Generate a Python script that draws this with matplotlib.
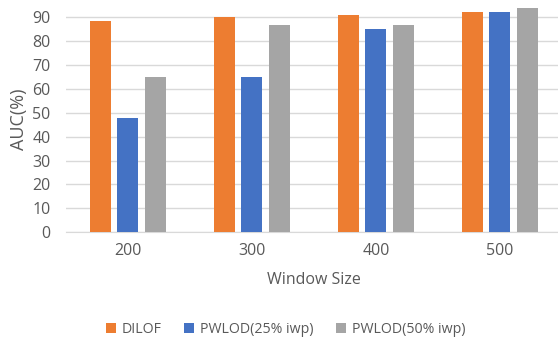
import matplotlib
matplotlib.use("Agg")
import matplotlib.pyplot as plt
import numpy as np

plt.rcParams["font.family"] = ["Open Sans", "DejaVu Sans"]

window_sizes = ["200", "300", "400", "500"]
series_names = ["DILOF", "PWLOD(25% iwp)", "PWLOD(50% iwp)"]
dilof = [88.3, 90.0, 91.2, 92.3]
pwlod_25 = [47.7, 65.1, 85.2, 92.3]
pwlod_50 = [65.1, 87.0, 86.6, 94.1]
colors = ["#ED7D31", "#4472C4", "#A5A5A5"]

text_color = "#595959"
grid_color = "#D9D9D9"

fig = plt.figure(figsize=(5.58, 3.40), dpi=100)
ax = fig.add_axes([0.118, 0.317, 0.889, 0.667])

x = np.arange(len(window_sizes))
width = 0.17
step = 0.223
for i, (vals, name, c) in enumerate(zip([dilof, pwlod_25, pwlod_50], series_names, colors)):
    ax.bar(x + (i - 1) * step, vals, width, color=c, label=name, zorder=3)

ax.set_xlim(-0.5, len(window_sizes) - 0.5)
ax.set_ylim(0, 95)
ax.set_yticks(np.arange(0, 91, 10))
ax.set_xticks(x)
ax.set_xticklabels(window_sizes)
ax.grid(axis="y", color=grid_color, linewidth=1, zorder=0)
ax.tick_params(length=0, colors=text_color, labelsize=11.5)
ax.tick_params(axis="y", pad=11)
ax.tick_params(axis="x", pad=8)
for side in ["top", "right", "left"]:
    ax.spines[side].set_visible(False)
ax.spines["bottom"].set_color(grid_color)
ax.spines["bottom"].set_zorder(1)

ax.set_ylabel("AUC(%)", color=text_color, fontsize=13, labelpad=3)
ax.set_xlabel("Window Size", color=text_color, fontsize=11.5, labelpad=9)

leg = fig.legend(loc="center", bbox_to_anchor=(0.512, 0.03), ncol=3, frameon=False,
                 fontsize=10.2, handlelength=0.7, handleheight=0.7, handletextpad=0.4,
                 columnspacing=1.6)
for t in leg.get_texts():
    t.set_color(text_color)

fig.savefig("out.png", dpi=100)
